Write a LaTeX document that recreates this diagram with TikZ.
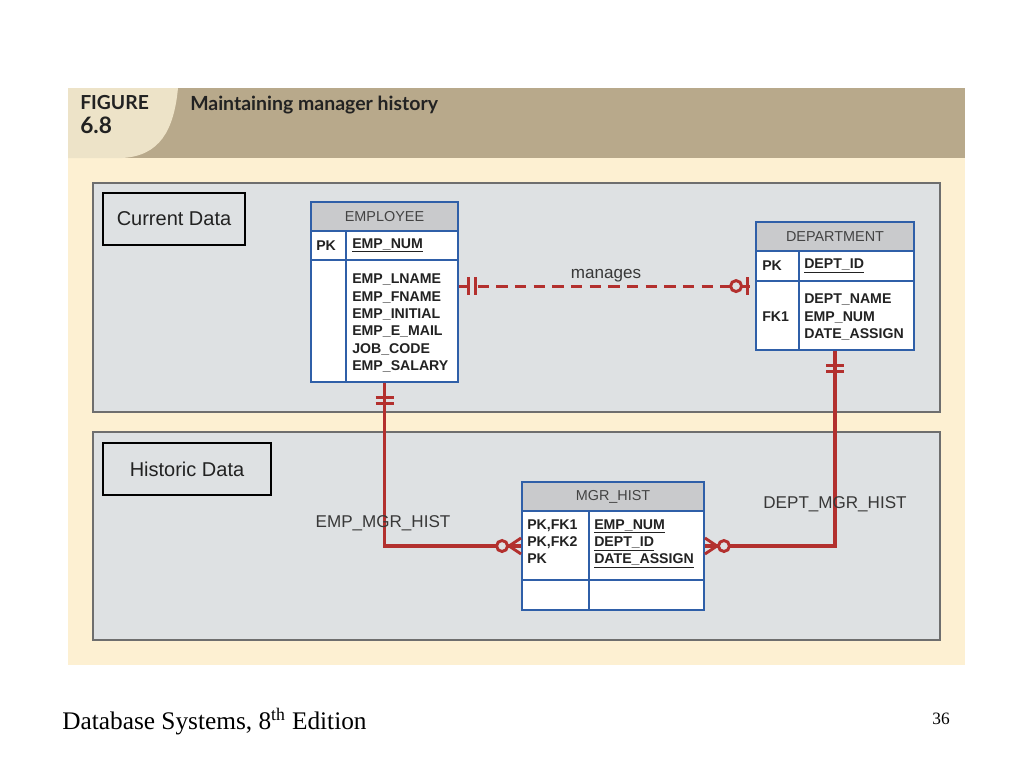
\documentclass[tikz,border=0pt]{standalone}
\usepackage{fontspec}
\setmainfont{Liberation Sans}
\newfontfamily\titlefont{Lato}
\newfontfamily\footfont{Liberation Serif}
\usetikzlibrary{fit,calc}
\definecolor{cream}{HTML}{FDF0D2}
\definecolor{tan}{HTML}{B8A98B}
\definecolor{lighttan}{HTML}{EDE3C8}
\definecolor{panel}{HTML}{DEE1E3}
\definecolor{panelborder}{HTML}{6E6E6E}
\definecolor{tblue}{HTML}{2F5FA8}
\definecolor{thead}{HTML}{C9CACC}
\definecolor{relred}{HTML}{B3302E}
\definecolor{txt}{HTML}{222222}
\tikzset{
  panelbox/.style={draw=panelborder, fill=panel, line width=0.9pt},
  labelbox/.style={draw=black, fill=panel, line width=1.6pt},
  tablebox/.style={fit={#1}, inner sep=0pt, draw=tblue, line width=1.4pt},
  tline/.style={draw=tblue, line width=1.1pt},
  headtxt/.style={font=\fontsize{10.8pt}{12pt}\selectfont, text=txt!85},
  keytxt/.style={font=\fontsize{10.6pt}{13pt}\selectfont\bfseries, text=txt, anchor=west, inner sep=0pt},
  attrtxt/.style={font=\fontsize{10.6pt}{13pt}\selectfont\bfseries, text=txt, anchor=north west, align=left, inner sep=0pt},
  rel/.style={draw=relred, line width=2.3pt},
  ermark/.style={draw=relred, line width=2.2pt},
  rellabel/.style={font=\fontsize{12.8pt}{14pt}\selectfont, text=txt!90},
  boxlabel/.style={font=\fontsize{15pt}{17pt}\selectfont, text=txt}
}
\begin{document}
\begin{tikzpicture}[x=0.75pt,y=-0.75pt]
\useasboundingbox (0,0) rectangle (1024,768);
\fill[white] (0,0) rectangle (1024,768);
% background panels
\fill[cream] (68,88) rectangle (965,665);
\fill[tan] (68,88) rectangle (965,158);
\fill[lighttan] (68,88) -- (178,88) .. controls (174,130) and (160,156) .. (122,158) -- (68,158) -- cycle;
\node[font=\titlefont\bfseries\fontsize{14.5pt}{16pt}\selectfont, text=txt, anchor=west, inner sep=0pt] (fig) at (80,103) {FIGURE};
\node[font=\titlefont\bfseries\fontsize{17pt}{18pt}\selectfont, text=txt, anchor=west, inner sep=0pt] (fignum) at (80,125) {6.8};
\node[font=\titlefont\bfseries\fontsize{14.6pt}{16pt}\selectfont, text=txt, anchor=west, inner sep=0pt] (title) at (190,105) {Maintaining manager history};
\draw[panelbox] (93,183) rectangle (940,412);
\draw[panelbox] (93,432) rectangle (940,640);
\node[labelbox, fit={(103,193)(245,245)}, inner sep=0pt] (curbox) {};
\node[boxlabel] (curlbl) at (curbox.center) {Current Data};
\node[labelbox, fit={(103,443)(271,495)}, inner sep=0pt] (histbox) {};
\node[boxlabel] (histlbl) at (histbox.center) {Historic Data};
% EMPLOYEE
\fill[white] (311,202) rectangle (458,382);
\fill[thead] (311,202) rectangle (458,231);
\draw[tline] (311,231) -- (458,231) (311,260) -- (458,260) (346,231) -- (346,382);
\node[tablebox={(311,202)(458,382)}] (emp) {};
\node[headtxt] (emph) at (384.5,216.5) {EMPLOYEE};
\node[keytxt] (emppk) at (316,245.5) {PK};
\node[keytxt] (empkey) at (352,245.5) {\underline{EMP\_NUM}};
\node[attrtxt] (empattr) at (352,274) {EMP\_LNAME\\EMP\_FNAME\\EMP\_INITIAL\\EMP\_E\_MAIL\\JOB\_CODE\\EMP\_SALARY};
% DEPARTMENT
\fill[white] (756,222) rectangle (914,350);
\fill[thead] (756,222) rectangle (914,251);
\draw[tline] (756,251) -- (914,251) (756,281) -- (914,281) (799,251) -- (799,350);
\node[tablebox={(756,222)(914,350)}] (dept) {};
\node[headtxt] (depth) at (835,236.5) {DEPARTMENT};
\node[keytxt] (deptpk) at (762,266) {PK};
\node[keytxt] (deptkey) at (804,266) {\underline{DEPT\_ID}};
\node[keytxt] (deptfk) at (762,317) {FK1};
\node[attrtxt] (deptattr) at (804,294) {DEPT\_NAME\\EMP\_NUM\\DATE\_ASSIGN};
% MGR_HIST
\fill[white] (522,482) rectangle (704,610);
\fill[thead] (522,482) rectangle (704,511);
\draw[tline] (522,511) -- (704,511) (522,580) -- (704,580) (589,511) -- (589,610);
\node[tablebox={(522,482)(704,610)}] (mgr) {};
\node[headtxt] (mgrh) at (613,496.5) {MGR\_HIST};
\node[attrtxt] (mgrkeys) at (527,519) {PK,FK1\\PK,FK2\\PK};
\node[attrtxt] (mgrattr) at (594,519) {\underline{EMP\_NUM}\\\underline{DEPT\_ID}\\\underline{DATE\_ASSIGN}};
% relationships
\draw[rel, dash pattern=on 8.5pt off 5.5pt] ($(emp.north east)+(0,85)$) coordinate (m1) -- ($(dept.north west)+(0,65)$) coordinate (m2);
\node[rellabel] (manlbl) at (606,276) {manages};
\draw[ermark] ($(m1)+(10,-9)$) -- ($(m1)+(10,9)$) ($(m1)+(17,-9)$) -- ($(m1)+(17,9)$);
\fill[panel] ($(m2)+(-19,0)$) circle (5.5);
\draw[ermark] ($(m2)+(-19,0)$) circle (5.5);
\draw[ermark] ($(m2)+(-8,-9)$) -- ($(m2)+(-8,9)$);
\draw[rel] (emp.south) |- (mgr.west);
\draw[rel] (dept.south) |- (mgr.east);
\draw[ermark] ($(emp.south)+(-9,15)$) -- ($(emp.south)+(9,15)$) ($(emp.south)+(-9,21)$) -- ($(emp.south)+(9,21)$);
\draw[ermark] ($(dept.south)+(-9,15)$) -- ($(dept.south)+(9,15)$) ($(dept.south)+(-9,21)$) -- ($(dept.south)+(9,21)$);
\fill[panel] ($(mgr.west)+(-19,0)$) circle (5.5);
\draw[ermark] ($(mgr.west)+(-19,0)$) circle (5.5);
\draw[ermark] ($(mgr.west)+(0,-8)$) -- ($(mgr.west)+(-12,0)$) -- ($(mgr.west)+(0,8)$);
\fill[panel] ($(mgr.east)+(19,0)$) circle (5.5);
\draw[ermark] ($(mgr.east)+(19,0)$) circle (5.5);
\draw[ermark] ($(mgr.east)+(0,-8)$) -- ($(mgr.east)+(12,0)$) -- ($(mgr.east)+(0,8)$);
\node[rellabel] (emlbl) at (383,523) {EMP\_MGR\_HIST};
\node[rellabel] (dmlbl) at (835,504) {DEPT\_MGR\_HIST};
% footer
\node[font=\footfont\fontsize{19pt}{21pt}\selectfont, anchor=base west, inner sep=0pt] (foot) at (62,729) {Database Systems, 8\textsuperscript{th} Edition};
\node[font=\footfont\fontsize{13pt}{15pt}\selectfont, anchor=base] (page) at (941,724) {36};
\end{tikzpicture}
\end{document}
